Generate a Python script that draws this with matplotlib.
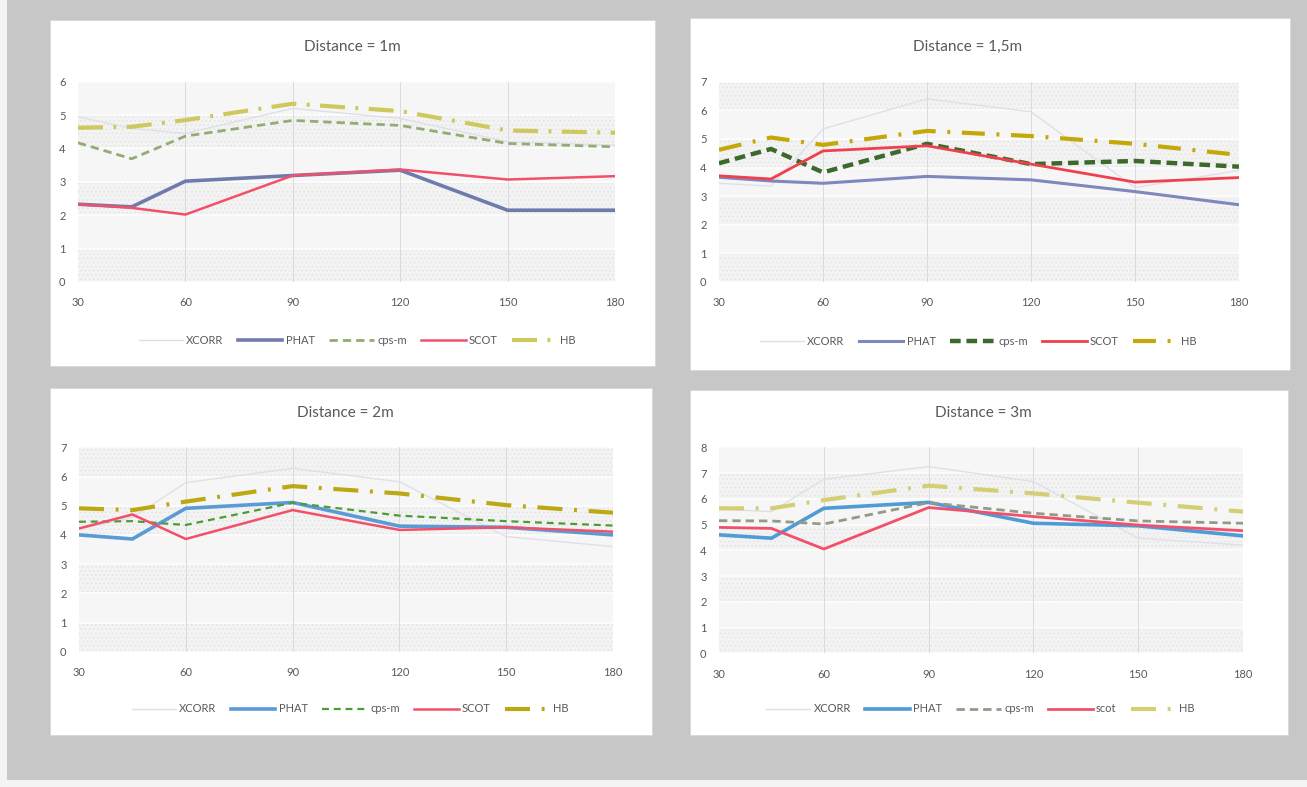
import matplotlib
matplotlib.use("Agg")
import matplotlib.pyplot as plt
from matplotlib.patches import Rectangle

plt.rcParams['font.family'] = ['Lato', 'DejaVu Sans']
plt.rcParams['hatch.color'] = '#e4e4e4'
plt.rcParams['hatch.linewidth'] = 0.6

# ---------------- data ----------------
angles = [30, 45, 60, 90, 120, 150, 180]
x_ticks = [30, 60, 90, 120, 150, 180]

titles = ["Distance = 1m", "Distance = 1,5m", "Distance = 2m", "Distance = 3m"]
y_max = [6, 7, 7, 8]

xcorr_1m = [4.95, 4.6, 4.45, 5.2, 4.9, 4.2, 4.1]
phat_1m = [2.33, 2.25, 3.02, 3.19, 3.35, 2.15, 2.15]
cpsm_1m = [4.17, 3.69, 4.37, 4.84, 4.69, 4.15, 4.05]
scot_1m = [2.33, 2.22, 2.02, 3.19, 3.37, 3.07, 3.17]
hb_1m = [4.62, 4.65, 4.85, 5.34, 5.12, 4.54, 4.47]

xcorr_15m = [3.45, 3.35, 5.35, 6.4, 5.95, 3.3, 3.9]
phat_15m = [3.66, 3.53, 3.45, 3.69, 3.57, 3.16, 2.7]
cpsm_15m = [4.15, 4.65, 3.83, 4.83, 4.12, 4.23, 4.03]
scot_15m = [3.71, 3.6, 4.58, 4.76, 4.12, 3.49, 3.65]
hb_15m = [4.62, 5.05, 4.79, 5.28, 5.1, 4.83, 4.44]

xcorr_2m = [4.2, 4.6, 5.79, 6.28, 5.82, 3.94, 3.6]
phat_2m = [4.0, 3.86, 4.91, 5.11, 4.3, 4.26, 4.0]
cpsm_2m = [4.45, 4.47, 4.34, 5.1, 4.66, 4.47, 4.32]
scot_2m = [4.22, 4.7, 3.86, 4.85, 4.17, 4.26, 4.11]
hb_2m = [4.91, 4.85, 5.14, 5.67, 5.42, 5.02, 4.76]

xcorr_3m = [5.6, 5.5, 6.76, 7.25, 6.67, 4.47, 4.2]
phat_3m = [4.6, 4.47, 5.63, 5.86, 5.05, 4.95, 4.56]
cpsm_3m = [5.15, 5.14, 5.02, 5.85, 5.44, 5.14, 5.05]
scot_3m = [4.89, 4.85, 4.05, 5.66, 5.31, 4.98, 4.76]
hb_3m = [5.63, 5.63, 5.95, 6.51, 6.21, 5.85, 5.5]

series_names = [
    ["XCORR", "PHAT", "cps-m", "SCOT", "HB"],
    ["XCORR", "PHAT", "cps-m", "SCOT", "HB"],
    ["XCORR", "PHAT", "cps-m", "SCOT", "HB"],
    ["XCORR", "PHAT", "cps-m", "scot", "HB"],
]
panel_data = [
    [xcorr_1m, phat_1m, cpsm_1m, scot_1m, hb_1m],
    [xcorr_15m, phat_15m, cpsm_15m, scot_15m, hb_15m],
    [xcorr_2m, phat_2m, cpsm_2m, scot_2m, hb_2m],
    [xcorr_3m, phat_3m, cpsm_3m, scot_3m, hb_3m],
]

# ---------------- styles ----------------
W, H = 1307, 787
styles = [
    [dict(color='#dfdfe9', lw=1.0, ls='-'),
     dict(color='#6f7cab', lw=2.6, ls='-'),
     dict(color='#93ab74', lw=2.0, ls=(0, (3, 1.8))),
     dict(color='#f2506a', lw=1.8, ls='-'),
     dict(color='#cfc85e', lw=3.0, ls=(0, (6, 2.5, 0.7, 2.5)))],
    [dict(color='#dfdfe9', lw=1.0, ls='-'),
     dict(color='#7d88bd', lw=2.2, ls='-'),
     dict(color='#3b6a2b', lw=3.2, ls=(0, (2.4, 1.3))),
     dict(color='#f0404e', lw=2.0, ls='-'),
     dict(color='#c4a808', lw=3.0, ls=(0, (5.5, 2.8, 0.7, 2.8)))],
    [dict(color='#dfdfe9', lw=1.0, ls='-'),
     dict(color='#5b9bd5', lw=2.6, ls='-'),
     dict(color='#4c9c34', lw=1.6, ls=(0, (3.1, 2.2))),
     dict(color='#f2506a', lw=1.8, ls='-'),
     dict(color='#bca812', lw=3.0, ls=(0, (6, 2.8, 0.7, 2.8)))],
    [dict(color='#dfdfe9', lw=1.0, ls='-'),
     dict(color='#4e9bd6', lw=2.6, ls='-'),
     dict(color='#939b86', lw=2.0, ls=(0, (3, 1.8))),
     dict(color='#f2506a', lw=2.0, ls='-'),
     dict(color='#d4ce74', lw=3.0, ls=(0, (6, 2.8, 0.7, 2.8)))],
]

# pixel layouts
boxes = [(50, 20, 655, 366), (690, 18, 1290, 370), (50, 388, 652, 735), (690, 390, 1288, 735)]
axes_px = [(78, 81.7, 615, 282), (719, 81.7, 1239, 282), (79, 447.3, 613, 651.7), (719, 447.3, 1243, 653.3)]
title_px = [(352, 47), (968, 47), (345, 413), (983, 413)]
legend_px = [(357, 340), (978, 341), (350, 709), (980, 709)]

fig = plt.figure(figsize=(W / 100, H / 100), dpi=100)
fig.patch.set_facecolor('#f4f4f4')
fig.patches.append(Rectangle((7 / W, 7 / H), 1 - 7 / W, 1 - 7 / H, transform=fig.transFigure,
                             facecolor='#c7c7c7', edgecolor='none', zorder=-3))
for (x0, y0, x1, y1) in boxes:
    fig.patches.append(Rectangle((x0 / W, 1 - y1 / H), (x1 - x0) / W, (y1 - y0) / H,
                                 transform=fig.transFigure, facecolor='white',
                                 edgecolor='#d8d8d8', lw=0.6, zorder=-2))

for i in range(4):
    x0, y0, x1, y1 = axes_px[i]
    ax = fig.add_axes([x0 / W, 1 - y1 / H, (x1 - x0) / W, (y1 - y0) / H])
    ax.set_facecolor('#f6f6f6')
    ax.set_xlim(30, 180)
    ax.set_ylim(0, y_max[i])
    for s in ax.spines.values():
        s.set_visible(False)
    ax.set_xticks(x_ticks)
    ax.set_yticks(range(0, y_max[i] + 1))
    ax.tick_params(length=0, labelsize=8, labelcolor='#595959')
    ax.tick_params(axis='y', pad=9)
    ax.tick_params(axis='x', pad=11)
    # alternating faintly textured bands
    for k in range(y_max[i]):
        if k % 2 == 0:
            ax.axhspan(k, k + 1, facecolor='#f3f3f3', hatch='....', lw=0, zorder=0)
    for yv in range(0, y_max[i] + 1):
        ax.axhline(yv, color='#fcfcfc', lw=1.4, zorder=0.5)
    for xv in [60, 90, 120, 150]:
        ax.axvline(xv, color='#d6d6d6', lw=0.6, zorder=0.6)

    handles = []
    for name, vals, st in zip(series_names[i], panel_data[i], styles[i]):
        ln, = ax.plot(angles, vals, color=st['color'], lw=st['lw'], ls=st['ls'],
                      solid_joinstyle='miter', label=name, zorder=2)
        handles.append(ln)

    tx, ty = title_px[i]
    fig.text(tx / W, 1 - ty / H, titles[i], ha='center', va='center', fontsize=11,
             color='#595959')
    lx, ly = legend_px[i]
    fig.legend(handles=handles, loc='center', bbox_to_anchor=(lx / W, 1 - ly / H),
               ncol=5, frameon=False, fontsize=8, handlelength=4.0, columnspacing=1.3,
               handletextpad=0.3, labelcolor='#595959')

fig.savefig('out.png', dpi=100)
